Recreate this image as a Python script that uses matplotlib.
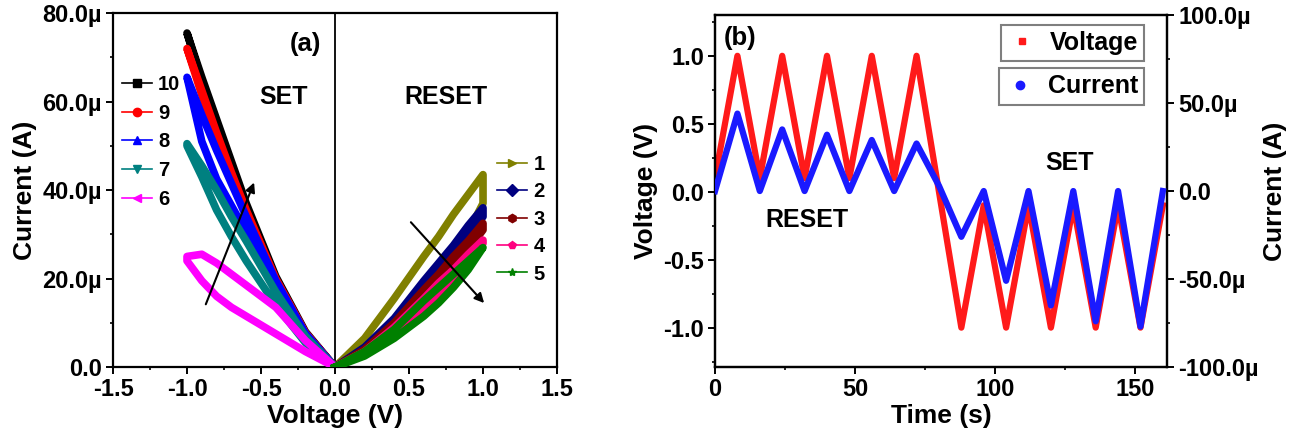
import matplotlib
matplotlib.use("Agg")
import matplotlib.pyplot as plt
from matplotlib.lines import Line2D
from matplotlib.ticker import MultipleLocator, FuncFormatter

plt.rcParams['font.family'] = ['Liberation Sans', 'DejaVu Sans']
plt.rcParams['font.weight'] = 'bold'
plt.rcParams['axes.labelweight'] = 'bold'

# ---- panel (a): I-V loops, current in uA ----
v_set = [0, -0.2, -0.4, -0.6, -0.7, -0.8, -0.9, -1.0]
v_reset = [0, 0.2, 0.4, 0.6, 0.7, 0.8, 0.9, 1.0]

set_labels = ['10', '9', '8', '7', '6']
set_colors = ['#000000', '#ff0000', '#0000ff', '#008080', '#ff00ff']
set_markers = ['s', 'o', '^', 'v', '<']
set_upper = [
    [0, 8.0, 20.5, 37.0, 46.5, 56.0, 65.5, 75.5],
    [0, 7.8, 20.0, 35.5, 44.0, 53.0, 62.5, 72.0],
    [0, 7.6, 19.5, 34.0, 41.5, 49.0, 57.0, 65.5],
    [0, 7.0, 17.0, 28.5, 34.0, 40.0, 45.5, 50.5],
    [0, 6.0, 13.5, 18.5, 21.0, 23.5, 25.5, 25.0],
]
set_lower = [
    [0, 7.6, 19.8, 36.0, 45.5, 55.0, 64.5, 75.5],
    [0, 7.4, 19.3, 34.5, 43.0, 52.0, 61.5, 72.0],
    [0, 6.8, 17.5, 30.5, 36.5, 42.5, 51.0, 65.5],
    [0, 5.5, 14.0, 24.0, 29.5, 35.5, 43.0, 50.0],
    [0, 3.5, 7.5, 11.5, 13.5, 16.0, 19.5, 24.0],
]

reset_labels = ['1', '2', '3', '4', '5']
reset_colors = ['#808000', '#000080', '#800000', '#ff0080', '#008000']
reset_markers = ['>', 'D', 'h', 'p', '*']
reset_upper = [
    [0, 6.5, 15.5, 25.0, 29.5, 34.5, 39.0, 43.5],
    [0, 4.5, 11.0, 19.5, 23.5, 27.5, 32.0, 36.0],
    [0, 4.0, 10.0, 17.5, 21.0, 25.0, 28.5, 32.5],
    [0, 3.5, 9.0, 15.5, 19.0, 22.0, 25.5, 28.7],
    [0, 3.5, 8.5, 15.0, 18.0, 21.0, 24.0, 27.0],
]
reset_lower = [
    [0, 3.5, 9.5, 16.5, 20.5, 25.0, 30.5, 37.0],
    [0, 3.5, 9.5, 17.0, 21.0, 25.0, 29.5, 34.0],
    [0, 3.5, 8.5, 15.0, 18.5, 22.5, 26.5, 31.0],
    [0, 3.0, 7.5, 13.5, 16.5, 19.5, 23.5, 28.0],
    [0, 2.5, 6.5, 11.5, 14.5, 18.0, 22.0, 27.0],
]

# ---- panel (b): time traces ----
time_s = [0, 8, 16, 24, 32, 40, 48, 56, 64, 72, 80, 88, 96, 104, 112, 120, 128, 136, 144, 152, 160]
voltage_v = [0.1, 1.0, 0.1, 1.0, 0.1, 1.0, 0.1, 1.0, 0.1, 1.0, 0.0,
             -1.0, -0.1, -1.0, -0.1, -1.0, -0.1, -1.0, -0.1, -1.0, -0.1]
current_ua = [0, 44, 0, 35, 0, 32, 0, 29, 0, 27, 3,
              -26, 0, -51, 0, -65, 0, -74, 0, -77, 0]


def micro_fmt(v, pos):
    if abs(v) < 1e-12:
        return '0.0'
    return '%.1f\u00b5' % (v * 1e6)


def style_axis(ax):
    for s in ax.spines.values():
        s.set_linewidth(1.6)
    ax.tick_params(which='major', direction='out', length=5, width=1.4, labelsize=17, pad=3)
    ax.tick_params(which='minor', direction='out', length=2.5, width=1.2)


fig = plt.figure(figsize=(12.93, 4.38), dpi=100)

# ================= (a) =================
ax1 = fig.add_axes([0.0874, 0.162, 0.3434, 0.808])
style_axis(ax1)
ax1.axvline(0, color='k', lw=1.3, zorder=1)

for i in range(len(set_labels)):
    xs = v_set + v_set[::-1]
    ys = [y * 1e-6 for y in set_upper[i] + set_lower[i][::-1]]
    ax1.plot(xs, ys, color=set_colors[i], lw=5.5, solid_joinstyle='round', zorder=2 + i)

for i in range(len(reset_labels)):
    xs = v_reset + v_reset[::-1]
    ys = [y * 1e-6 for y in reset_upper[i] + reset_lower[i][::-1]]
    ax1.plot(xs, ys, color=reset_colors[i], lw=5.5, solid_joinstyle='round', zorder=2 + i)

ax1.set_xlim(-1.5, 1.5)
ax1.set_ylim(0, 80e-6)
ax1.xaxis.set_major_locator(MultipleLocator(0.5))
ax1.xaxis.set_minor_locator(MultipleLocator(0.25))
ax1.yaxis.set_major_locator(MultipleLocator(20e-6))
ax1.yaxis.set_minor_locator(MultipleLocator(10e-6))
ax1.xaxis.set_major_formatter(FuncFormatter(lambda v, p: '%.1f' % v))
ax1.yaxis.set_major_formatter(FuncFormatter(micro_fmt))
ax1.set_xlabel('Voltage (V)', fontsize=19, labelpad=2)
ax1.set_ylabel('Current (A)', fontsize=19, labelpad=4)

ax1.text(-0.2, 73e-6, '(a)', fontsize=18.5, ha='center', va='center')
ax1.text(-0.35, 61e-6, 'SET', fontsize=18, ha='center', va='center')
ax1.text(0.75, 61e-6, 'RESET', fontsize=18, ha='center', va='center')

arrow = dict(arrowstyle='-|>', color='k', lw=1.5, mutation_scale=14)
ax1.annotate('', xy=(-0.54, 42.3e-6), xytext=(-0.88, 13.6e-6), arrowprops=arrow, zorder=20)
ax1.annotate('', xy=(1.02, 14.0e-6), xytext=(0.50, 33.2e-6), arrowprops=arrow, zorder=20)

h_set = [Line2D([], [], color=c, marker=m, lw=1.2, markersize=6)
         for c, m in zip(set_colors, set_markers)]
h_reset = [Line2D([], [], color=c, marker=m, lw=1.2, markersize=6)
           for c, m in zip(reset_colors, reset_markers)]
leg1 = ax1.legend(h_set, set_labels, loc='upper left', bbox_to_anchor=(0.02, 0.825),
                  frameon=False, fontsize=14.5, handlelength=1.5, handletextpad=0.3,
                  labelspacing=0.48, borderpad=0, borderaxespad=0)
ax1.add_artist(leg1)
ax1.legend(h_reset, reset_labels, loc='upper left', bbox_to_anchor=(0.865, 0.60),
           frameon=False, fontsize=14.5, handlelength=1.5, handletextpad=0.3,
           labelspacing=0.42, borderpad=0, borderaxespad=0)

# ================= (b) =================
ax2 = fig.add_axes([0.553, 0.162, 0.3496, 0.8037])
ax3 = ax2.twinx()
style_axis(ax2)
style_axis(ax3)

ax2.plot(time_s, voltage_v, color='#ff1a1a', lw=4.5, zorder=2)
ax3.plot(time_s, [c * 1e-6 for c in current_ua], color='#1a1aff', lw=4.5, zorder=3)

ax2.set_xlim(0, 161.5)
ax2.set_ylim(-1.29, 1.30)
ax3.set_ylim(-100e-6, 100e-6)
ax2.xaxis.set_major_locator(MultipleLocator(50))
ax2.xaxis.set_minor_locator(MultipleLocator(25))
ax2.yaxis.set_major_locator(MultipleLocator(0.5))
ax2.yaxis.set_minor_locator(MultipleLocator(0.25))
ax2.yaxis.set_major_formatter(FuncFormatter(lambda v, p: '%.1f' % v))
ax3.yaxis.set_major_locator(MultipleLocator(50e-6))
ax3.yaxis.set_minor_locator(MultipleLocator(25e-6))
ax3.yaxis.set_major_formatter(FuncFormatter(micro_fmt))
ax2.set_xlabel('Time (s)', fontsize=19, labelpad=2)
ax2.set_ylabel('Voltage (V)', fontsize=19, labelpad=4)
ax3.set_ylabel('Current (A)', fontsize=19, labelpad=3)

ax2.text(3, 1.13, '(b)', fontsize=18.5, ha='left', va='center')
ax2.text(33, -0.21, 'RESET', fontsize=18, ha='center', va='center')
ax2.text(126.5, 0.21, 'SET', fontsize=18, ha='center', va='center')

# current axis sits on top, so both legend boxes go there
ax3.set_zorder(ax2.get_zorder() + 1)
ax2.patch.set_visible(True)
ax3.patch.set_visible(False)
hv = Line2D([], [], color='#ff1a1a', marker='s', lw=0, markersize=5)
hc = Line2D([], [], color='#1a1aff', marker='o', lw=0, markersize=6)
legkw = dict(fontsize=18, handlelength=1.2, handletextpad=0.5, borderpad=0.25,
             borderaxespad=0, fancybox=False, framealpha=1, edgecolor='#7f7f7f')
lv = ax3.legend([hv], ['Voltage'], loc='upper right', bbox_to_anchor=(0.949, 0.972), **legkw)
lv.get_frame().set_linewidth(1.5)
ax3.add_artist(lv)
lc = ax3.legend([hc], ['Current'], loc='upper right', bbox_to_anchor=(0.949, 0.849), **legkw)
lc.get_frame().set_linewidth(1.5)

fig.savefig('out.png', dpi=100)
